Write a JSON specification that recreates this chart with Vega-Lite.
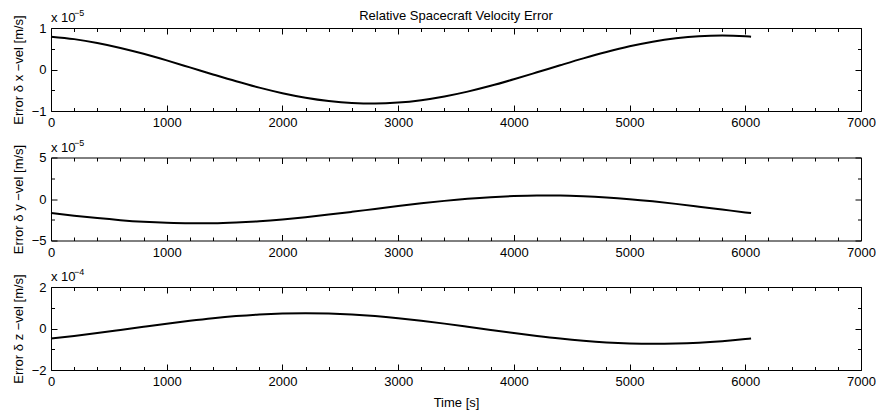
{
  "$schema": "https://vega.github.io/schema/vega-lite/v6.json",
  "padding": {"left": 11, "top": 8, "right": 0, "bottom": 0},
  "background": "white",
  "datasets": {
    "vel": [
      {"t": 0, "dvx": 0.792e-5, "dvy": -1.682e-5, "dvz": -0.487e-4},
      {"t": 200, "dvx": 0.732e-5, "dvy": -2.008e-5, "dvz": -0.361e-4},
      {"t": 400, "dvx": 0.640e-5, "dvy": -2.302e-5, "dvz": -0.220e-4},
      {"t": 600, "dvx": 0.520e-5, "dvy": -2.549e-5, "dvz": -0.069e-4},
      {"t": 800, "dvx": 0.378e-5, "dvy": -2.741e-5, "dvz": 0.084e-4},
      {"t": 1000, "dvx": 0.219e-5, "dvy": -2.869e-5, "dvz": 0.234e-4},
      {"t": 1200, "dvx": 0.051e-5, "dvy": -2.927e-5, "dvz": 0.374e-4},
      {"t": 1400, "dvx": -0.119e-5, "dvy": -2.912e-5, "dvz": 0.498e-4},
      {"t": 1600, "dvx": -0.284e-5, "dvy": -2.826e-5, "dvz": 0.600e-4},
      {"t": 1800, "dvx": -0.437e-5, "dvy": -2.672e-5, "dvz": 0.677e-4},
      {"t": 2000, "dvx": -0.571e-5, "dvy": -2.456e-5, "dvz": 0.724e-4},
      {"t": 2200, "dvx": -0.680e-5, "dvy": -2.189e-5, "dvz": 0.740e-4},
      {"t": 2400, "dvx": -0.760e-5, "dvy": -1.881e-5, "dvz": 0.724e-4},
      {"t": 2600, "dvx": -0.807e-5, "dvy": -1.546e-5, "dvz": 0.677e-4},
      {"t": 2800, "dvx": -0.820e-5, "dvy": -1.198e-5, "dvz": 0.601e-4},
      {"t": 3000, "dvx": -0.797e-5, "dvy": -0.852e-5, "dvz": 0.498e-4},
      {"t": 3200, "dvx": -0.739e-5, "dvy": -0.523e-5, "dvz": 0.374e-4},
      {"t": 3400, "dvx": -0.650e-5, "dvy": -0.226e-5, "dvz": 0.235e-4},
      {"t": 3600, "dvx": -0.533e-5, "dvy": 0.027e-5, "dvz": 0.085e-4},
      {"t": 3800, "dvx": -0.393e-5, "dvy": 0.225e-5, "dvz": -0.069e-4},
      {"t": 4000, "dvx": -0.235e-5, "dvy": 0.359e-5, "dvz": -0.220e-4},
      {"t": 4200, "dvx": -0.068e-5, "dvy": 0.424e-5, "dvz": -0.361e-4},
      {"t": 4400, "dvx": 0.102e-5, "dvy": 0.417e-5, "dvz": -0.487e-4},
      {"t": 4600, "dvx": 0.268e-5, "dvy": 0.338e-5, "dvz": -0.591e-4},
      {"t": 4800, "dvx": 0.422e-5, "dvy": 0.190e-5, "dvz": -0.671e-4},
      {"t": 5000, "dvx": 0.559e-5, "dvy": -0.020e-5, "dvz": -0.721e-4},
      {"t": 5200, "dvx": 0.671e-5, "dvy": -0.283e-5, "dvz": -0.740e-4},
      {"t": 5400, "dvx": 0.753e-5, "dvy": -0.587e-5, "dvz": -0.727e-4},
      {"t": 5600, "dvx": 0.804e-5, "dvy": -0.921e-5, "dvz": -0.683e-4},
      {"t": 5800, "dvx": 0.820e-5, "dvy": -1.268e-5, "dvz": -0.609e-4},
      {"t": 6000, "dvx": 0.800e-5, "dvy": -1.615e-5, "dvz": -0.509e-4},
      {"t": 6050, "dvx": 0.790e-5, "dvy": -1.699e-5, "dvz": -0.481e-4}
    ]
  },
  "vconcat": [
    {
      "width": 810,
      "height": 83,
      "title": {"text": "Relative Spacecraft Velocity Error", "anchor": "middle", "frame": "group", "offset": -14},
      "data": {"name": "vel"},
      "layer": [
        {
          "mark": {"type": "line", "color": "black", "strokeWidth": 2, "interpolate": "monotone"},
          "encoding": {
            "x": {"field": "t", "type": "quantitative", "scale": {"domain": [0, 7000], "nice": false, "zero": false},
                  "axis": {"orient": "bottom", "values": [0, 1000, 2000, 3000, 4000, 5000, 6000, 7000], "tickSize": -6, "labelPadding": 11.5, "format": "d", "title": null}},
            "y": {"field": "dvx", "type": "quantitative", "scale": {"domain": [-1e-5, 1e-5], "nice": false, "zero": false},
                  "axis": {"orient": "left", "values": [-1e-5, 0, 1e-5], "tickSize": -6, "labelPadding": 11, "labelExpr": "format(datum.value*1e5, 'd')", "title": "Error δ x −vel [m/s]"}}
          }
        },
        {
          "mark": {"type": "line", "opacity": 0},
          "encoding": {
            "x": {"field": "t", "type": "quantitative", "axis": {"orient": "bottom", "values": [200,400,600,800,1200,1400,1600,1800,2200,2400,2600,2800,3200,3400,3600,3800,4200,4400,4600,4800,5200,5400,5600,5800,6200,6400,6600,6800], "tickSize": -3.5, "labels": false, "title": null}},
            "y": {"field": "dvx", "type": "quantitative", "axis": {"orient": "left", "values": [-0.5e-5, 0.5e-5], "tickSize": -3.5, "labels": false, "title": null}}
          }
        },
        {
          "mark": {"type": "line", "opacity": 0},
          "encoding": {
            "x": {"field": "t", "type": "quantitative", "axis": {"orient": "top", "values": [0, 1000, 2000, 3000, 4000, 5000, 6000, 7000], "tickSize": -6, "labels": false, "title": null}},
            "y": {"field": "dvx", "type": "quantitative", "axis": {"orient": "right", "values": [-1e-5, 0, 1e-5], "tickSize": -6, "labels": false, "title": null}}
          }
        },
        {
          "mark": {"type": "line", "opacity": 0},
          "encoding": {
            "x": {"field": "t", "type": "quantitative", "axis": {"orient": "top", "values": [200,400,600,800,1200,1400,1600,1800,2200,2400,2600,2800,3200,3400,3600,3800,4200,4400,4600,4800,5200,5400,5600,5800,6200,6400,6600,6800], "tickSize": -3.5, "labels": false, "title": null}},
            "y": {"field": "dvx", "type": "quantitative", "axis": {"orient": "right", "values": [-0.5e-5, 0.5e-5], "tickSize": -3.5, "labels": false, "title": null}}
          }
        },
        {
          "data": {"values": [{"base": "x 10", "exp": "−5"}]},
          "mark": {"type": "text", "align": "left", "baseline": "alphabetic", "dy": -6, "fontSize": 13, "color": "black", "font": "Liberation Sans"},
          "encoding": {
            "x": {"datum": 0, "type": "quantitative", "axis": null},
            "y": {"datum": 1e-5, "type": "quantitative", "axis": null},
            "text": {"field": "base"}
          }
        },
        {
          "data": {"values": [{"base": "x 10", "exp": "−5"}]},
          "mark": {"type": "text", "align": "left", "baseline": "alphabetic", "dx": 23, "dy": -12, "fontSize": 9, "color": "black", "font": "Liberation Sans"},
          "encoding": {
            "x": {"datum": 0, "type": "quantitative", "axis": null},
            "y": {"datum": 1e-5, "type": "quantitative", "axis": null},
            "text": {"field": "exp"}
          }
        }
      ],
      "resolve": {"axis": {"x": "independent", "y": "independent"}}
    },
    {
      "width": 810,
      "height": 83,
      "data": {"name": "vel"},
      "layer": [
        {
          "mark": {"type": "line", "color": "black", "strokeWidth": 2, "interpolate": "monotone"},
          "encoding": {
            "x": {"field": "t", "type": "quantitative", "scale": {"domain": [0, 7000], "nice": false, "zero": false},
                  "axis": {"orient": "bottom", "values": [0, 1000, 2000, 3000, 4000, 5000, 6000, 7000], "tickSize": -6, "labelPadding": 11.5, "format": "d", "title": null}},
            "y": {"field": "dvy", "type": "quantitative", "scale": {"domain": [-5e-5, 5e-5], "nice": false, "zero": false},
                  "axis": {"orient": "left", "values": [-5e-5, 0, 5e-5], "tickSize": -6, "labelPadding": 11, "labelExpr": "format(datum.value*1e5, 'd')", "title": "Error δ y −vel [m/s]"}}
          }
        },
        {
          "mark": {"type": "line", "opacity": 0},
          "encoding": {
            "x": {"field": "t", "type": "quantitative", "axis": {"orient": "bottom", "values": [200,400,600,800,1200,1400,1600,1800,2200,2400,2600,2800,3200,3400,3600,3800,4200,4400,4600,4800,5200,5400,5600,5800,6200,6400,6600,6800], "tickSize": -3.5, "labels": false, "title": null}},
            "y": {"field": "dvy", "type": "quantitative", "axis": {"orient": "left", "values": [-2.5e-5, 2.5e-5], "tickSize": -3.5, "labels": false, "title": null}}
          }
        },
        {
          "mark": {"type": "line", "opacity": 0},
          "encoding": {
            "x": {"field": "t", "type": "quantitative", "axis": {"orient": "top", "values": [0, 1000, 2000, 3000, 4000, 5000, 6000, 7000], "tickSize": -6, "labels": false, "title": null}},
            "y": {"field": "dvy", "type": "quantitative", "axis": {"orient": "right", "values": [-5e-5, 0, 5e-5], "tickSize": -6, "labels": false, "title": null}}
          }
        },
        {
          "mark": {"type": "line", "opacity": 0},
          "encoding": {
            "x": {"field": "t", "type": "quantitative", "axis": {"orient": "top", "values": [200,400,600,800,1200,1400,1600,1800,2200,2400,2600,2800,3200,3400,3600,3800,4200,4400,4600,4800,5200,5400,5600,5800,6200,6400,6600,6800], "tickSize": -3.5, "labels": false, "title": null}},
            "y": {"field": "dvy", "type": "quantitative", "axis": {"orient": "right", "values": [-2.5e-5, 2.5e-5], "tickSize": -3.5, "labels": false, "title": null}}
          }
        },
        {
          "data": {"values": [{"base": "x 10", "exp": "−5"}]},
          "mark": {"type": "text", "align": "left", "baseline": "alphabetic", "dy": -6, "fontSize": 13, "color": "black", "font": "Liberation Sans"},
          "encoding": {
            "x": {"datum": 0, "type": "quantitative", "axis": null},
            "y": {"datum": 5e-5, "type": "quantitative", "axis": null},
            "text": {"field": "base"}
          }
        },
        {
          "data": {"values": [{"base": "x 10", "exp": "−5"}]},
          "mark": {"type": "text", "align": "left", "baseline": "alphabetic", "dx": 23, "dy": -12, "fontSize": 9, "color": "black", "font": "Liberation Sans"},
          "encoding": {
            "x": {"datum": 0, "type": "quantitative", "axis": null},
            "y": {"datum": 5e-5, "type": "quantitative", "axis": null},
            "text": {"field": "exp"}
          }
        }
      ],
      "resolve": {"axis": {"x": "independent", "y": "independent"}}
    },
    {
      "width": 810,
      "height": 83,
      "data": {"name": "vel"},
      "layer": [
        {
          "mark": {"type": "line", "color": "black", "strokeWidth": 2, "interpolate": "monotone"},
          "encoding": {
            "x": {"field": "t", "type": "quantitative", "scale": {"domain": [0, 7000], "nice": false, "zero": false},
                  "axis": {"orient": "bottom", "values": [0, 1000, 2000, 3000, 4000, 5000, 6000, 7000], "tickSize": -6, "labelPadding": 11.5, "format": "d", "title": "Time [s]", "titlePadding": 8}},
            "y": {"field": "dvz", "type": "quantitative", "scale": {"domain": [-2e-4, 2e-4], "nice": false, "zero": false},
                  "axis": {"orient": "left", "values": [-2e-4, 0, 2e-4], "tickSize": -6, "labelPadding": 11, "labelExpr": "format(datum.value*1e4, 'd')", "title": "Error δ z −vel [m/s]"}}
          }
        },
        {
          "mark": {"type": "line", "opacity": 0},
          "encoding": {
            "x": {"field": "t", "type": "quantitative", "axis": {"orient": "bottom", "values": [200,400,600,800,1200,1400,1600,1800,2200,2400,2600,2800,3200,3400,3600,3800,4200,4400,4600,4800,5200,5400,5600,5800,6200,6400,6600,6800], "tickSize": -3.5, "labels": false, "title": null}},
            "y": {"field": "dvz", "type": "quantitative", "axis": {"orient": "left", "values": [-1e-4, 1e-4], "tickSize": -3.5, "labels": false, "title": null}}
          }
        },
        {
          "mark": {"type": "line", "opacity": 0},
          "encoding": {
            "x": {"field": "t", "type": "quantitative", "axis": {"orient": "top", "values": [0, 1000, 2000, 3000, 4000, 5000, 6000, 7000], "tickSize": -6, "labels": false, "title": null}},
            "y": {"field": "dvz", "type": "quantitative", "axis": {"orient": "right", "values": [-2e-4, 0, 2e-4], "tickSize": -6, "labels": false, "title": null}}
          }
        },
        {
          "mark": {"type": "line", "opacity": 0},
          "encoding": {
            "x": {"field": "t", "type": "quantitative", "axis": {"orient": "top", "values": [200,400,600,800,1200,1400,1600,1800,2200,2400,2600,2800,3200,3400,3600,3800,4200,4400,4600,4800,5200,5400,5600,5800,6200,6400,6600,6800], "tickSize": -3.5, "labels": false, "title": null}},
            "y": {"field": "dvz", "type": "quantitative", "axis": {"orient": "right", "values": [-1e-4, 1e-4], "tickSize": -3.5, "labels": false, "title": null}}
          }
        },
        {
          "data": {"values": [{"base": "x 10", "exp": "−4"}]},
          "mark": {"type": "text", "align": "left", "baseline": "alphabetic", "dy": -6, "fontSize": 13, "color": "black", "font": "Liberation Sans"},
          "encoding": {
            "x": {"datum": 0, "type": "quantitative", "axis": null},
            "y": {"datum": 2e-4, "type": "quantitative", "axis": null},
            "text": {"field": "base"}
          }
        },
        {
          "data": {"values": [{"base": "x 10", "exp": "−4"}]},
          "mark": {"type": "text", "align": "left", "baseline": "alphabetic", "dx": 23, "dy": -12, "fontSize": 9, "color": "black", "font": "Liberation Sans"},
          "encoding": {
            "x": {"datum": 0, "type": "quantitative", "axis": null},
            "y": {"datum": 2e-4, "type": "quantitative", "axis": null},
            "text": {"field": "exp"}
          }
        }
      ],
      "resolve": {"axis": {"x": "independent", "y": "independent"}}
    }
  ],
  "bounds": "flush",
  "spacing": 46.5,
  "config": {
    "font": "Liberation Sans",
    "view": {"stroke": "black", "strokeWidth": 1},
    "axis": {
      "domain": false,
      "grid": false,
      "ticks": true,
      "tickColor": "black",
      "tickWidth": 1,
      "labelColor": "black",
      "labelFont": "Liberation Sans",
      "labelFontSize": 13,
      "labelFlush": false,
      "labelOverlap": false,
      "labelPadding": 5,
      "titleFont": "Liberation Sans",
      "titleFontSize": 13,
      "titleFontWeight": "normal",
      "titleColor": "black",
      "titlePadding": 6
    },
    "title": {"font": "Liberation Sans", "fontSize": 13, "fontWeight": "normal", "color": "black"}
  }
}
